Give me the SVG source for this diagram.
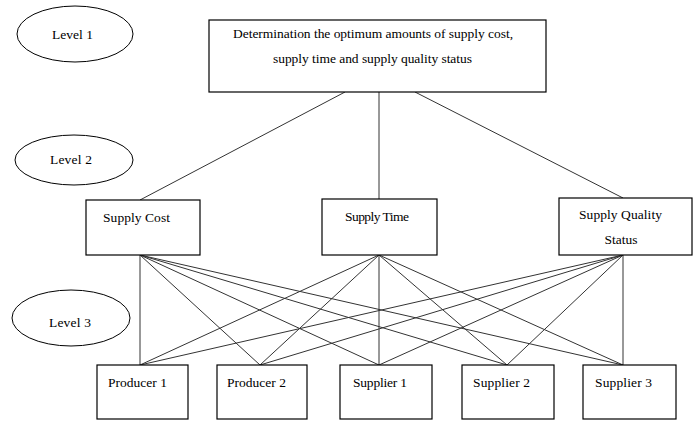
<svg xmlns="http://www.w3.org/2000/svg" width="700" height="421" viewBox="0 0 700 421">
<style>
.box{fill:#fff;stroke:#000;stroke-width:1.2}
.ell{fill:#fff;stroke:#000;stroke-width:1}
.t{font-family:"Liberation Serif","Times New Roman",serif;font-size:13.5px;fill:#000}
.c line{stroke:#333;stroke-width:1}
</style>
<rect width="700" height="421" fill="#fff"/>
<g class="c" id="connectors">
<line x1="345" y1="92" x2="140" y2="200"/>
<line x1="379" y1="92" x2="379" y2="199"/>
<line x1="415" y1="92" x2="623" y2="198"/>
<line x1="140" y1="255" x2="140" y2="365"/>
<line x1="140" y1="255" x2="260" y2="365"/>
<line x1="140" y1="255" x2="379" y2="365"/>
<line x1="140" y1="255" x2="507" y2="365"/>
<line x1="140" y1="255" x2="623" y2="365"/>
<line x1="379" y1="255" x2="140" y2="365"/>
<line x1="379" y1="255" x2="260" y2="365"/>
<line x1="379" y1="255" x2="379" y2="365"/>
<line x1="379" y1="255" x2="507" y2="365"/>
<line x1="379" y1="255" x2="623" y2="365"/>
<line x1="623" y1="255" x2="140" y2="365"/>
<line x1="623" y1="255" x2="260" y2="365"/>
<line x1="623" y1="255" x2="379" y2="365"/>
<line x1="623" y1="255" x2="507" y2="365"/>
<line x1="623" y1="255" x2="623" y2="365"/>
</g>
<g id="level1"><ellipse class="ell" cx="75" cy="34" rx="58" ry="28"/><text class="t" x="52" y="39" textLength="41">Level 1</text></g>
<g id="level2"><ellipse class="ell" cx="74" cy="160" rx="59" ry="25"/><text class="t" x="50" y="164" textLength="42">Level 2</text></g>
<g id="level3"><ellipse class="ell" cx="71" cy="318" rx="59" ry="28"/><text class="t" x="49" y="327" textLength="42">Level 3</text></g>
<g id="goal"><rect class="box" x="209" y="20" width="337" height="72"/>
<text class="t" x="233" y="38" textLength="280">Determination the optimum amounts of supply cost,</text>
<text class="t" x="273" y="63" textLength="199">supply time and supply quality status</text></g>
<g id="cost"><rect class="box" x="86" y="200" width="114" height="55"/><text class="t" x="103" y="222" textLength="67">Supply Cost</text></g>
<g id="time"><rect class="box" x="322" y="199" width="115" height="56"/><text class="t" x="345" y="221" textLength="64">Supply Time</text></g>
<g id="quality"><rect class="box" x="559" y="198" width="133" height="57"/><text class="t" x="579" y="219" textLength="83">Supply Quality</text><text class="t" x="621" y="244" text-anchor="middle">Status</text></g>
<g id="producer1"><rect class="box" x="97" y="365" width="91" height="54"/><text class="t" x="108" y="387" textLength="59">Producer 1</text></g>
<g id="producer2"><rect class="box" x="217" y="365" width="90" height="54"/><text class="t" x="227" y="387" textLength="59">Producer 2</text></g>
<g id="supplier1"><rect class="box" x="340" y="365" width="92" height="54"/><text class="t" x="353" y="387" textLength="54">Supplier 1</text></g>
<g id="supplier2"><rect class="box" x="462" y="365" width="92" height="54"/><text class="t" x="473" y="387" textLength="57">Supplier 2</text></g>
<g id="supplier3"><rect class="box" x="583" y="365" width="93" height="54"/><text class="t" x="595" y="387" textLength="57">Supplier 3</text></g>
</svg>
